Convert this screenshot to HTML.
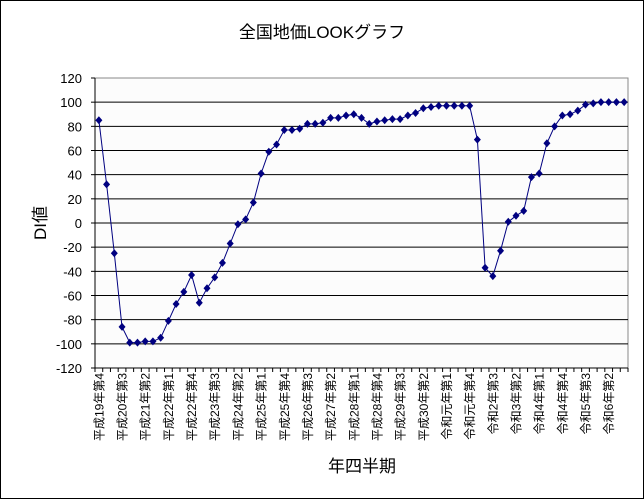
<!DOCTYPE html>
<html><head><meta charset="utf-8"><style>
html,body{margin:0;padding:0;background:#fff}
svg{display:block}
text{font-family:"Liberation Sans","Noto Sans CJK JP",sans-serif;fill:#000}
</style></head><body>
<svg id="chart" width="644" height="499" xmlns="http://www.w3.org/2000/svg">
<rect x="0.5" y="0.5" width="643" height="498" fill="#fff" stroke="#000"/>
<text x="322" y="38" text-anchor="middle" font-size="17">全国地価LOOKグラフ</text>
<rect x="95" y="78" width="533" height="290" fill="#fcfcfc" stroke="#888"/>
<g id="grid"></g>
<g id="yaxis"></g>
<g id="xaxis"></g>
<g id="series"></g>
<text x="0" y="0" transform="translate(46,223) rotate(-90)" text-anchor="middle" font-size="17">DI値</text>
<text x="362" y="472" text-anchor="middle" font-size="17">年四半期</text>
</svg>
<script>
const categories = ["平成19年第4","平成20年第1","平成20年第2","平成20年第3","平成20年第4","平成21年第1","平成21年第2","平成21年第3","平成21年第4","平成22年第1","平成22年第2","平成22年第3","平成22年第4","平成23年第1","平成23年第2","平成23年第3","平成23年第4","平成24年第1","平成24年第2","平成24年第3","平成24年第4","平成25年第1","平成25年第2","平成25年第3","平成25年第4","平成26年第1","平成26年第2","平成26年第3","平成26年第4","平成27年第1","平成27年第2","平成27年第3","平成27年第4","平成28年第1","平成28年第2","平成28年第3","平成28年第4","平成29年第1","平成29年第2","平成29年第3","平成29年第4","平成30年第1","平成30年第2","平成30年第3","平成30年第4","令和元年第1","令和元年第2","令和元年第3","令和元年第4","令和2年第1","令和2年第2","令和2年第3","令和2年第4","令和3年第1","令和3年第2","令和3年第3","令和3年第4","令和4年第1","令和4年第2","令和4年第3","令和4年第4","令和5年第1","令和5年第2","令和5年第3","令和5年第4","令和6年第1","令和6年第2","令和6年第3","令和6年第4"];
const diValues = [85,32,-25,-86,-99,-99,-98,-98,-95,-81,-67,-57,-43,-66,-54,-45,-33,-17,-1,3,17,41,59,65,77,77,78,82,82,83,87,87,89,90,87,82,84,85,86,86,89,91,95,96,97,97,97,97,97,69,-37,-44,-23,1,6,10,38,41,66,80,89,90,93,98,99,100,100,100,100];
const yTicks = [120,100,80,60,40,20,0,-20,-40,-60,-80,-100,-120];
const labelEvery = 3;

const NS = "http://www.w3.org/2000/svg";
const L = 95, R = 628, T = 78, B = 368, yMin = -120, yMax = 120;
const bw = (R - L) / categories.length;
function xScale(i){ return L + bw * (i + 0.5); }
function yScale(v){ return B - (v - yMin) / (yMax - yMin) * (B - T); }
function mk(tag, attrs, parent){ const e = document.createElementNS(NS, tag); for (const k in attrs) e.setAttribute(k, attrs[k]); parent.appendChild(e); return e; }

const grid = document.getElementById('grid'), ya = document.getElementById('yaxis'), xa = document.getElementById('xaxis'), ser = document.getElementById('series');
yTicks.forEach(v => {
  const y = yScale(v);
  if (v !== yMin && v !== yMax) {
    const g = mk('line', {x1:L, x2:R, y1:y, y2:y, stroke:'#000', 'stroke-width':1}, grid);
    
    
  }
  const t = mk('line', {x1:L-4, x2:L, y1:y, y2:y, stroke:'#000'}, ya);
  
  
  const lb = mk('text', {x:82, y:y+5, 'text-anchor':'end', 'font-size':13}, ya);
  lb.textContent = v;
  
  
});
mk('line', {x1:L, x2:L, y1:T, y2:B, stroke:'#000'}, ya);
mk('line', {x1:L, x2:R, y1:B, y2:B, stroke:'#000'}, xa);
for (let i = 0; i <= categories.length; i++) {
  const x = L + bw * i;
  const t = mk('line', {x1:x, x2:x, y1:B, y2:B+4, stroke:'#000'}, xa);
  
  
}
categories.forEach((c, i) => {
  if (i % labelEvery !== 0) return;
  const x = xScale(i);
  const lb = mk('text', {transform:'translate(' + (x+4.5) + ',373) rotate(-90)', 'text-anchor':'end', 'font-size':12}, xa);
  lb.textContent = c;
  
  
});
const pts = diValues.map((v, i) => xScale(i).toFixed(1) + ',' + yScale(v).toFixed(1)).join(' ');
const line = mk('polyline', {points:pts, fill:'none', stroke:'#000080', 'stroke-width':1}, ser);


diValues.forEach((v, i) => {
  const x = xScale(i), y = yScale(v);
  const m = mk('polygon', {points:(x)+','+(y-4)+' '+(x+3.5)+','+y+' '+x+','+(y+4)+' '+(x-3.5)+','+y, fill:'#000080'}, ser);
  
  
});
</script>
</body></html>
